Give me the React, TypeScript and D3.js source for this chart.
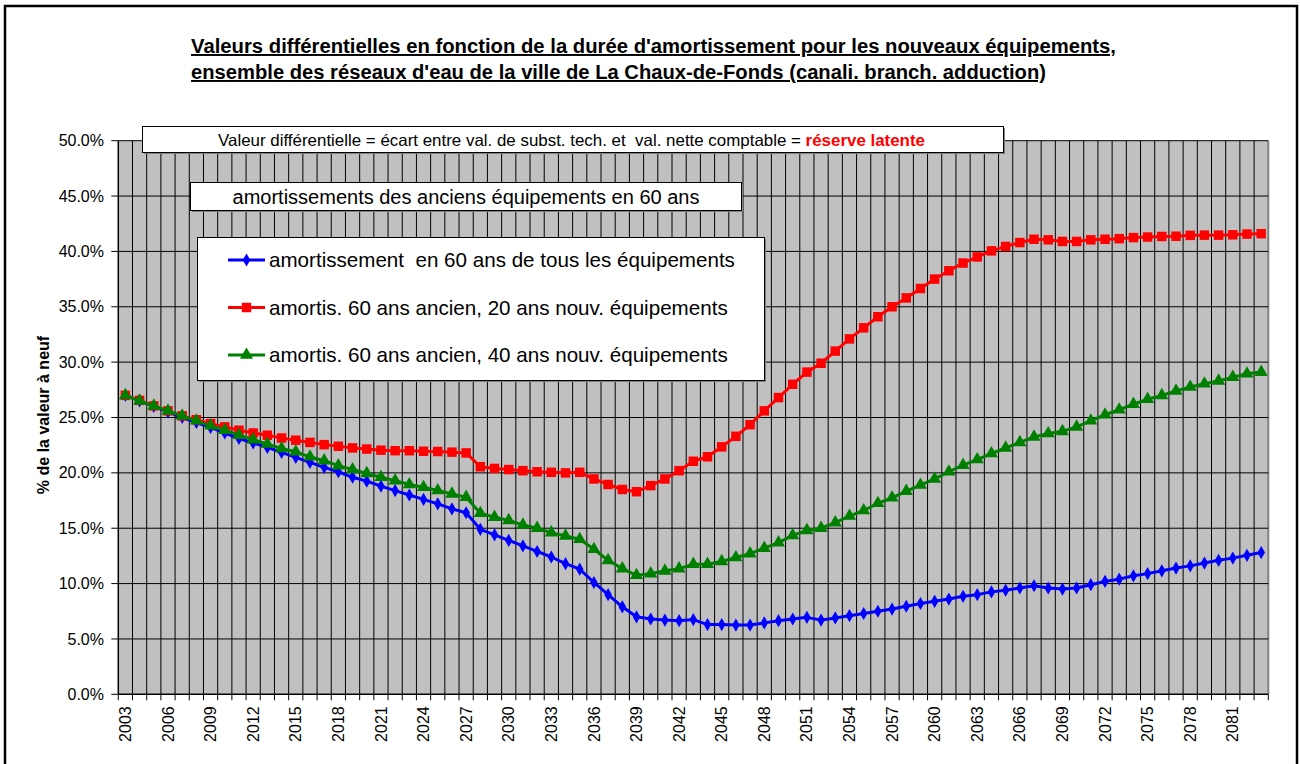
import React from 'react';
import * as d3 from 'd3';

// years 2003 .. 2083 (categories)
const years: number[] = Array.from({ length: 81 }, (_, i) => 2003 + i);

// amortissement en 60 ans de tous les équipements
const blueValues = [
  27.0, 26.5, 26.0, 25.5, 25.0, 24.55, 24.1, 23.6, 23.1, 22.7,
  22.3, 21.85, 21.4, 20.95, 20.5, 20.1, 19.6, 19.25, 18.8, 18.4,
  18.0, 17.6, 17.2, 16.75, 16.4, 14.9, 14.4, 13.9, 13.4, 12.9,
  12.4, 11.8, 11.3, 10.1, 9.0, 7.9, 7.0, 6.8, 6.7, 6.65,
  6.75, 6.3, 6.3, 6.25, 6.25, 6.45, 6.65, 6.8, 6.95, 6.7,
  6.9, 7.1, 7.3, 7.5, 7.7, 7.95, 8.2, 8.4, 8.6, 8.85,
  9.0, 9.25, 9.4, 9.6, 9.8, 9.6, 9.5, 9.6, 9.9, 10.2,
  10.4, 10.7, 10.9, 11.15, 11.4, 11.6, 11.85, 12.1, 12.3, 12.55,
  12.8,
];

// amortis. 60 ans ancien, 20 ans nouv. équipements
const redValues = [
  27.0, 26.55, 26.05, 25.6, 25.15, 24.8, 24.45, 24.15, 23.85, 23.6,
  23.4, 23.15, 22.95, 22.75, 22.55, 22.4, 22.25, 22.15, 22.05, 22.0,
  22.0, 21.95, 21.93, 21.87, 21.8, 20.55, 20.4, 20.3, 20.2, 20.1,
  20.05, 20.0, 20.05, 19.45, 18.95, 18.5, 18.3, 18.85, 19.45, 20.2,
  21.05, 21.45, 22.35, 23.3, 24.35, 25.6, 26.8, 28.0, 29.1, 29.9,
  31.0, 32.1, 33.1, 34.1, 35.0, 35.8, 36.65, 37.5, 38.25, 38.95,
  39.5, 40.05, 40.45, 40.8, 41.1, 41.05, 40.9, 40.9, 41.05, 41.1,
  41.15, 41.25, 41.3, 41.35, 41.37, 41.45, 41.47, 41.47, 41.5, 41.57,
  41.6,
];

// amortis. 60 ans ancien, 40 ans nouv. équipements
const greenValues = [
  27.0, 26.5, 26.05, 25.6, 25.15, 24.7, 24.25, 23.85, 23.4, 23.0,
  22.6, 22.2, 21.9, 21.45, 21.1, 20.65, 20.3, 19.95, 19.6, 19.3,
  18.95, 18.7, 18.4, 18.1, 17.8, 16.35, 16.0, 15.7, 15.3, 15.0,
  14.6, 14.3, 14.0, 13.1, 12.1, 11.35, 10.75, 10.9, 11.15, 11.35,
  11.75, 11.75, 12.0, 12.35, 12.7, 13.2, 13.7, 14.35, 14.8, 15.0,
  15.5, 16.1, 16.6, 17.25, 17.75, 18.35, 18.9, 19.45, 20.1, 20.7,
  21.2, 21.75, 22.25, 22.75, 23.25, 23.55, 23.75, 24.15, 24.7, 25.25,
  25.7, 26.2, 26.65, 27.0, 27.4, 27.75, 28.05, 28.3, 28.65, 28.95,
  29.1,
];

const yTicks = [0, 5, 10, 15, 20, 25, 30, 35, 40, 45, 50];

const seriesNames = [
  'amortissement  en 60 ans de tous les équipements',
  'amortis. 60 ans ancien, 20 ans nouv. équipements',
  'amortis. 60 ans ancien, 40 ans nouv. équipements',
];

const titleLines = [
  "Valeurs différentielles en fonction de la durée d'amortissement pour les nouveaux équipements,",
  "ensemble des réseaux d'eau de la ville de La Chaux-de-Fonds (canali. branch. adduction)",
];
const titleWidths = [925, 855];

const FONT = "'Liberation Sans', Arial, sans-serif";

const plot = { left: 118.3, right: 1268.3, top: 140.7, bottom: 694.3 };

const series = [
  { name: seriesNames[0], values: blueValues, color: '#0000FF', symbol: d3.symbolDiamond, size: 50 },
  { name: seriesNames[1], values: redValues, color: '#FF0000', symbol: d3.symbolSquare, size: 90 },
  { name: seriesNames[2], values: greenValues, color: '#008000', symbol: d3.symbolTriangle, size: 75 },
];

const App: React.FC = () => {
  const x = d3.scaleBand<number>().domain(years).range([plot.left, plot.right]).padding(0);
  const y = d3.scaleLinear().domain([0, 50]).range([plot.bottom, plot.top]);
  const cx = (yr: number) => (x(yr) as number) + x.bandwidth() / 2;

  const line = d3.line<number>()
    .x((_, i) => cx(years[i]))
    .y(v => y(v));

  const boundaries = [...years.map(yr => x(yr) as number), plot.right];
  const labelYears = years.filter((_, i) => i % 3 === 0 && i < 80);

  return (
    <svg width={1300} height={764} style={{ position: 'absolute', left: 0, top: 0, background: '#fff' }}
      fontFamily={FONT}>
      <rect x={0} y={0} width={1300} height={764} fill="#fff" />
      {/* outer frame */}
      <rect x={5} y={6} width={1292} height={800} fill="none" stroke="#000" strokeWidth={2.5} />

      {/* title */}
      {titleLines.map((t, i) => (
        <text key={i} x={191} y={53 + i * 26} fontSize={19.5} fontWeight="bold"
          textLength={titleWidths[i]} lengthAdjust="spacingAndGlyphs"
          textDecoration="underline" fill="#000">{t}</text>
      ))}

      {/* plot background */}
      <rect x={plot.left} y={plot.top} width={plot.right - plot.left} height={plot.bottom - plot.top}
        fill="#C0C0C0" />

      {/* vertical grid */}
      {boundaries.slice(1).map((bx, i) => (
        <line key={'vg' + i} x1={bx} x2={bx} y1={plot.top} y2={plot.bottom}
          stroke={i === boundaries.length - 2 ? '#808080' : '#000'} strokeWidth={i === boundaries.length - 2 ? 2 : 1} />
      ))}
      {/* horizontal grid */}
      {yTicks.slice(1).map(t => (
        <line key={'hg' + t} x1={plot.left} x2={plot.right} y1={y(t)} y2={y(t)} stroke="#000" strokeWidth={1} />
      ))}

      {/* axes */}
      <line x1={plot.left} x2={plot.left} y1={plot.top} y2={plot.bottom} stroke="#000" strokeWidth={1.5} />
      <line x1={plot.left} x2={plot.right} y1={plot.bottom} y2={plot.bottom} stroke="#000" strokeWidth={1.5} />
      {yTicks.map(t => (
        <g key={'yt' + t}>
          <line x1={plot.left - 7} x2={plot.left} y1={y(t)} y2={y(t)} stroke="#000" />
          <text x={104} y={y(t)} dy="0.35em" textAnchor="end" fontSize={16} fill="#000">
            {t.toFixed(1)}%
          </text>
        </g>
      ))}
      {boundaries.map((bx, i) => (
        <line key={'xt' + i} x1={bx} x2={bx} y1={plot.bottom} y2={plot.bottom + 6} stroke="#000" />
      ))}
      {labelYears.map(yr => (
        <text key={'xl' + yr} transform={`translate(${cx(yr)},${plot.bottom + 12}) rotate(-90)`}
          dy="0.35em" textAnchor="end" fontSize={16} fill="#000">{yr}</text>
      ))}

      <text transform="translate(43,415) rotate(-90)" textAnchor="middle" dy="0.35em"
        fontSize={16} fontWeight="bold" fill="#000">% de la valeur à neuf</text>

      {/* series */}
      {series.map(s => (
        <g key={s.name}>
          <path d={line(s.values) || ''} fill="none" stroke={s.color} strokeWidth={3} strokeLinejoin="round" />
          {s.values.map((v, i) => (
            <path key={i} transform={`translate(${cx(years[i])},${y(v)})`}
              d={d3.symbol(s.symbol, s.size)() || ''} fill={s.color} />
          ))}
        </g>
      ))}

      {/* annotation box 1 */}
      <rect x={144} y={128} width={861} height={26} fill="#808080" />
      <rect x={142.5} y={126.5} width={861} height={26} fill="#fff" stroke="#000" strokeWidth={1} />
      <text x={218} y={140} dy="0.35em" fontSize={16.5} fill="#000" style={{ whiteSpace: 'pre' }}
        textLength={707} lengthAdjust="spacingAndGlyphs">
        {'Valeur différentielle = écart entre val. de subst. tech. et  val. nette comptable = '}
        <tspan fill="#FF0000" fontWeight="bold">réserve latente</tspan>
      </text>

      {/* annotation box 2 */}
      <rect x={192} y={184} width={551} height={28} fill="#808080" />
      <rect x={190.5} y={182.5} width={551} height={28} fill="#fff" stroke="#000" strokeWidth={1} />
      <text x={466} y={197} dy="0.35em" textAnchor="middle" fontSize={20} fill="#000">
        amortissements des anciens équipements en 60 ans
      </text>

      {/* legend */}
      <rect x={199} y={239} width={567} height={143} fill="#808080" />
      <rect x={197.5} y={237.5} width={567} height={143} fill="#fff" stroke="#000" strokeWidth={1} />
      {series.map((s, i) => {
        const ly = 260 + i * 47.5;
        return (
          <g key={'lg' + i}>
            <line x1={228} x2={265} y1={ly} y2={ly} stroke={s.color} strokeWidth={3} />
            <path transform={`translate(246.5,${ly})`} d={d3.symbol(s.symbol, s.size)() || ''} fill={s.color} />
            <text x={269} y={ly} dy="0.35em" fontSize={20.6} fill="#000" style={{ whiteSpace: 'pre' }}>{s.name}</text>
          </g>
        );
      })}
    </svg>
  );
};

export default App;
